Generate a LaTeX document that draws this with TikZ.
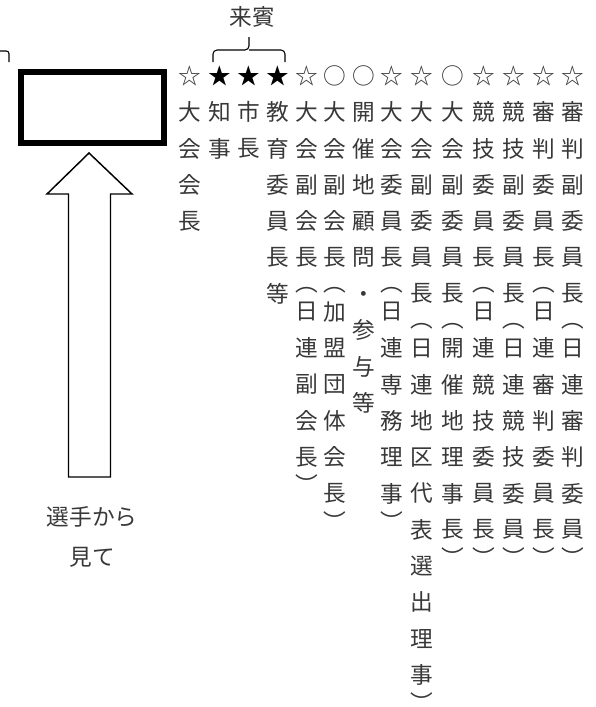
\documentclass[tikz,border=0pt]{standalone}
\usepackage{fontspec}
\newfontfamily\jp{Noto Sans CJK JP}
\newcommand\vcol[3]{\foreach \c/\r [count=\i] in {#3}
  \node[ch] (#1-\i) at (#2,{76+36.3*\r}) {\c};}
\newcommand\bk{\textcolor{black}{★}}
\newcommand\cl{\smash{\raisebox{-0.72em}{︶}}}
\begin{document}
\begin{tikzpicture}[x=0.75pt,y=-0.75pt,
  ch/.style={inner sep=0pt, font=\jp\fontsize{17}{17}\selectfont, text=black!78},
  lbl/.style={inner sep=0pt, font=\jp\fontsize{17}{17}\selectfont, text=black!78},
  thinline/.style={line width=0.8pt, black}]
\useasboundingbox (0,0) rectangle (596,707);

% top-left partial mark
\draw[thinline, rounded corners=2pt] (0,51) -- (9,51) -- (9,62);

% board
\node[draw, line width=4.5pt, minimum width=106.9pt, minimum height=53.25pt, inner sep=0pt] (board) at (92.75,107.5) {};

% big hollow arrow
\draw[line width=1.1pt, line join=miter] (89,153) -- (132,194) -- (110.5,194) -- (110.5,477)
  -- (68.5,477) -- (68.5,194) -- (47,194) -- cycle;
\coordinate (arrowtip) at (89,153);

\node[lbl] (sen) at (92,517) {選手から};
\node[lbl] (mite) at (92,557) {見て};

% guests brace
\node[lbl] (raihin) at (252,17) {来賓};
\coordinate (bl) at (213,62);
\coordinate (br) at (285,62);
\coordinate (btip) at (249,37);
\draw[thinline, rounded corners=3pt] (bl) -- (213,50) -- (249,50) -- (btip);
\draw[thinline, rounded corners=3pt] (br) -- (285,50) -- (249,50);

% columns
\vcol{c0}{190}{☆/0,大/1,会/2,会/3,長/4}
\vcol{c1}{219.5}{\bk/0,知/1,事/2}
\vcol{c2}{248.5}{\bk/0,市/1,長/2}
\vcol{c3}{277.5}{\bk/0,教/1,育/2,委/3,員/4,長/5,等/6}
\vcol{c4}{306.5}{☆/0,大/1,会/2,副/3,会/4,長/5,︵/5.9,日/6.5,連/7.5,副/8.5,会/9.5,長/10.5,\cl/11.06}
\vcol{c5}{335}{○/0,大/1,会/2,副/3,会/4,長/5,︵/5.9,加/6.5,盟/7.5,団/8.5,体/9.5,会/10.5,長/11.5,\cl/12.06}
\vcol{c6}{363.5}{○/0,開/1,催/2,地/3,顧/4,問/5,・/6.08,参/7,与/8,等/9}
\vcol{c7}{392}{☆/0,大/1,会/2,委/3,員/4,長/5,︵/5.9,日/6.5,連/7.5,専/8.5,務/9.5,理/10.5,事/11.5,\cl/12.06}
\vcol{c8}{422}{☆/0,大/1,会/2,副/3,委/4,員/5,長/6,︵/6.9,日/7.5,連/8.5,地/9.5,区/10.5,代/11.5,表/12.5,選/13.5,出/14.5,理/15.5,事/16.5,\cl/17.06}
\vcol{c9}{452.5}{○/0,大/1,会/2,副/3,委/4,員/5,長/6,︵/6.9,開/7.5,催/8.5,地/9.5,理/10.5,事/11.5,長/12.5,\cl/13.06}
\vcol{c10}{484}{☆/0,競/1,技/2,委/3,員/4,長/5,︵/5.9,日/6.5,連/7.5,競/8.5,技/9.5,委/10.5,員/11.5,長/12.5,\cl/13.06}
\vcol{c11}{514}{☆/0,競/1,技/2,副/3,委/4,員/5,長/6,︵/6.9,日/7.5,連/8.5,競/9.5,技/10.5,委/11.5,員/12.5,\cl/13.06}
\vcol{c12}{543.5}{☆/0,審/1,判/2,委/3,員/4,長/5,︵/5.9,日/6.5,連/7.5,審/8.5,判/9.5,委/10.5,員/11.5,長/12.5,\cl/13.06}
\vcol{c13}{573}{☆/0,審/1,判/2,副/3,委/4,員/5,長/6,︵/6.9,日/7.5,連/8.5,審/9.5,判/10.5,委/11.5,員/12.5,\cl/13.06}
\end{tikzpicture}
\end{document}
